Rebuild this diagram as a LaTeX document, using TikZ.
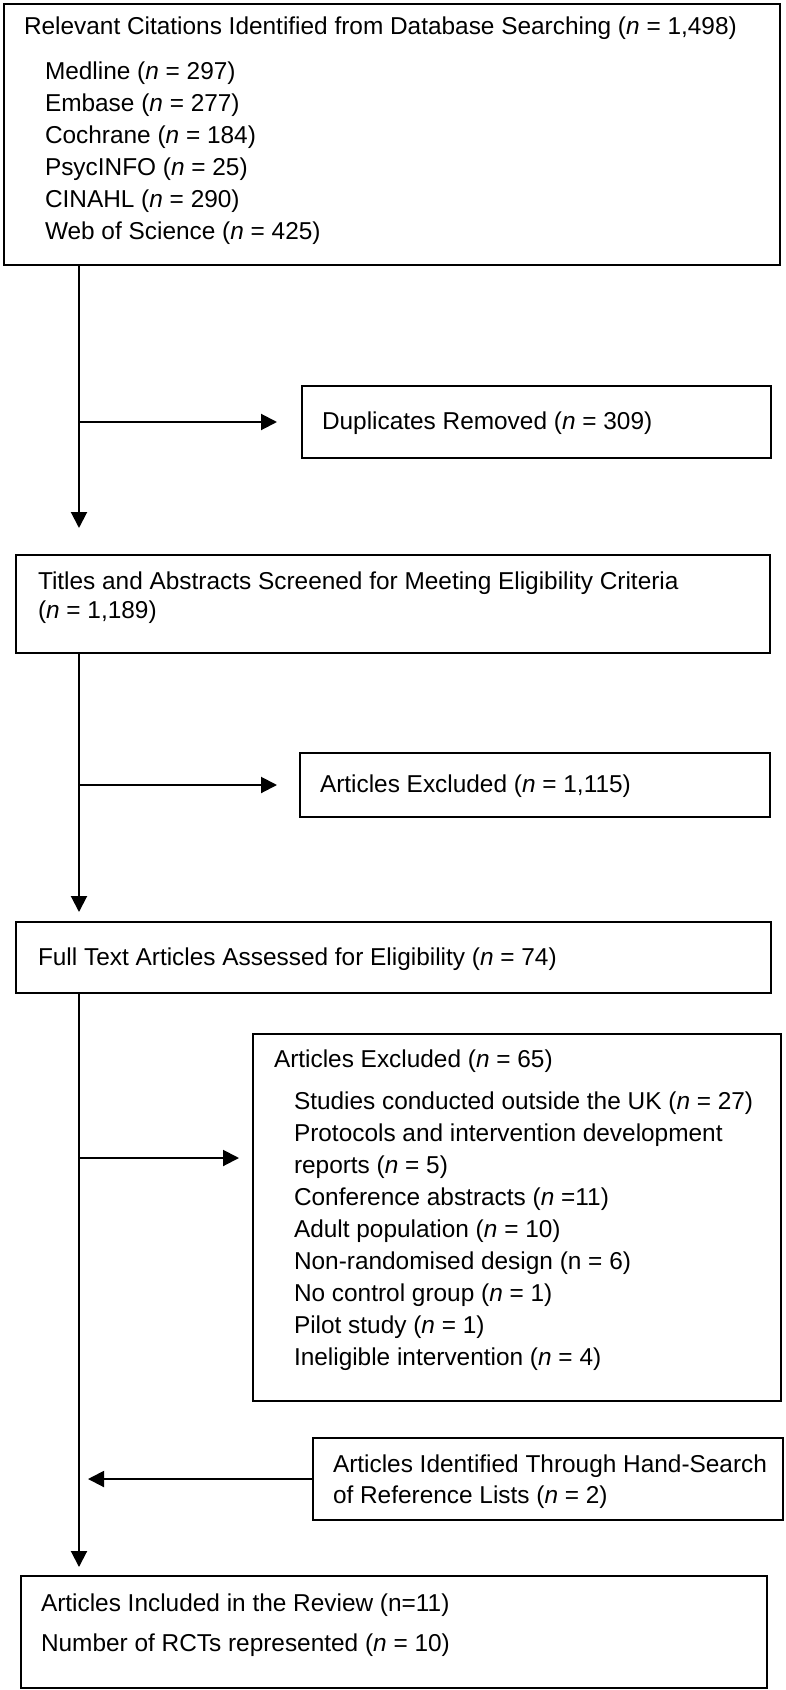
\documentclass[tikz,border=0pt]{standalone}
\usepackage{fontspec}
\setmainfont{Liberation Sans}
\usetikzlibrary{arrows.meta, calc}

% box contents: width, height, top gap, left gap, text
\newcommand{\boxbody}[5]{\begin{minipage}[c][#2][t]{#1}\raggedright\leftskip=#4\relax\vspace*{#3}#5\end{minipage}}

\begin{document}
\begin{tikzpicture}[x=0.5pt, y=-0.5pt]
	\tikzstyle{stage}=[draw=black, line width=1pt, inner sep=0pt, anchor=north west, font=\fontsize{12.2}{16}\selectfont];
	\tikzstyle{flow}=[-{Triangle[length=8pt, width=8pt]}, line width=1pt];

	\useasboundingbox (0, 0) rectangle (786, 1690);

	\node[stage] (cites) at (3, 3) {\boxbody{388pt}{130.5pt}{4.05pt}{10pt}{%
		\strut Relevant Citations Identified from Database Searching (\textit{n} = 1,498)\par
		\vspace{6.5pt}\leftskip=20.5pt\relax
		Medline (\textit{n} = 297)\\
		Embase (\textit{n} = 277)\\
		Cochrane (\textit{n} = 184)\\
		PsycINFO (\textit{n} = 25)\\
		CINAHL (\textit{n} = 290)\\
		Web of Science (\textit{n} = 425)}};
	\node[stage] (dups) at (301, 385) {\boxbody{234.5pt}{36pt}{10.55pt}{10pt}{%
		\strut Duplicates Removed (\textit{n} = 309)}};
	\node[stage] (titles) at (15, 554) {\boxbody{377pt}{49pt}{6.05pt}{11pt}{%
		\strut Titles and Abstracts Screened for Meeting Eligibility Criteria\\[-1.5pt]
		(\textit{n} = 1,189)}};
	\node[stage] (excl1) at (299, 752) {\boxbody{235pt}{32pt}{8.55pt}{10pt}{%
		\strut Articles Excluded (\textit{n} = 1,115)}};
	\node[stage] (fulltext) at (15, 921) {\boxbody{377.5pt}{35.5pt}{10.55pt}{11pt}{%
		\strut Full Text Articles Assessed for Eligibility (\textit{n} = 74)}};
	\node[stage] (excl2) at (252, 1033) {\boxbody{264pt}{183.5pt}{5.55pt}{10.5pt}{%
		\strut Articles Excluded (\textit{n} = 65)\par
		\vspace{5pt}\leftskip=20.5pt\relax
		Studies conducted outside the UK (\textit{n} = 27)\\
		Protocols and intervention development\\
		reports (\textit{n} = 5)\\
		Conference abstracts (\textit{n} =11)\\
		Adult population (\textit{n} = 10)\\
		Non-randomised design (n = 6)\\
		No control group (\textit{n} = 1)\\
		Pilot study (\textit{n} = 1)\\
		Ineligible intervention (\textit{n} = 4)}};
	\node[stage] (hand) at (312, 1437) {\boxbody{235pt}{41pt}{6.05pt}{10pt}{%
		\strut Articles Identified Through Hand-Search\\[-0.5pt]
		of Reference Lists (\textit{n} = 2)}};
	\node[stage] (final) at (20, 1575) {\boxbody{373pt}{56pt}{6.55pt}{10pt}{%
		\strut Articles Included in the Review (n=11)\\[4pt]
		Number of RCTs represented (\textit{n} = 10)}};

	% main line
	\coordinate (trunk) at (79, 0);
	\coordinate (branch) at (79, 1158);
	\draw[flow, shorten >=13pt] (trunk |- cites.south) -- (trunk |- titles.north);
	\draw[flow, shorten >=4.5pt] (trunk |- titles.south) -- (trunk |- fulltext.north);
	\draw[flow, shorten >=4pt] (trunk |- fulltext.south) -- (trunk |- final.north);

	% side boxes
	\draw[flow, shorten >=12pt] (trunk |- dups.west) -- (dups.west);
	\draw[flow, shorten >=11pt] (trunk |- excl1.west) -- (excl1.west);
	\draw[flow, shorten >=6.5pt] (branch) -- (branch -| excl2.west);
	\draw[flow, shorten >=4.5pt] (hand.west) -- (trunk |- hand.west);
\end{tikzpicture}
\end{document}
